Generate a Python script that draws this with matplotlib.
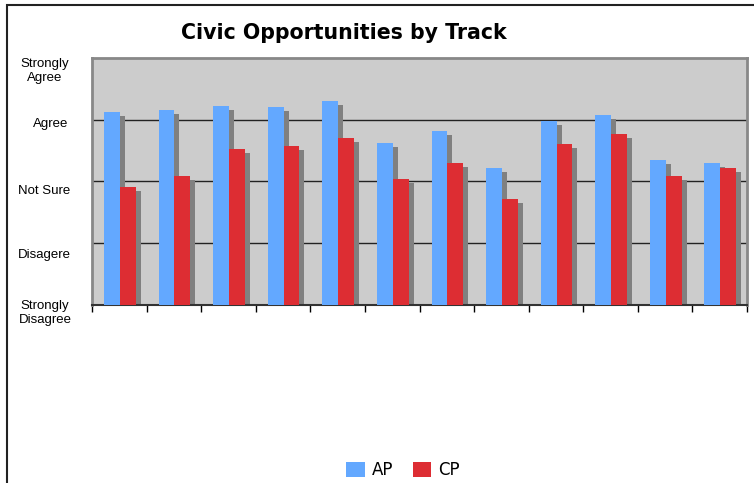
import numpy as np
import matplotlib.pyplot as plt
from matplotlib.patches import Rectangle

# survey scale: 1 = Strongly Disagree ... 5 = Strongly Agree
scale_labels = ["Strongly\nDisagree", "Disagere", "Not Sure", "Agree", "Strongly\nAgree"]
ap = [4.13, 4.16, 4.22, 4.21, 4.30, 3.62, 3.82, 3.22, 3.98, 4.08, 3.35, 3.30]
cp = [2.91, 3.09, 3.52, 3.57, 3.70, 3.04, 3.30, 2.71, 3.61, 3.77, 3.09, 3.22]

blue = "#63a8ff"
red = "#dd2d33"
shadow = "#808080"

fig = plt.figure(figsize=(7.54, 4.83), dpi=100)
ax = fig.add_axes([92 / 754, 1 - 304.5 / 483, 655 / 754, 246.5 / 483])
ax.set_facecolor("#cccccc")

x = np.arange(len(ap))
w = 0.29
dx = 0.092
dy = 0.065
base = 1

# shadows first, bars on top
ax.bar(x + 0.22 + dx, np.array(ap) - base - dy, w, bottom=base, align="edge",
       color=shadow, zorder=2)
ax.bar(x + 0.51 + dx, np.array(cp) - base - dy, w, bottom=base, align="edge",
       color=shadow, zorder=2)
ax.bar(x + 0.22, np.array(ap) - base, w, bottom=base, align="edge",
       color=blue, zorder=3, label="AP")
ax.bar(x + 0.51, np.array(cp) - base, w, bottom=base, align="edge",
       color=red, zorder=3, label="CP")

ax.set_xlim(0, len(ap))
ax.set_ylim(1, 5)
for yv in [2, 3, 4]:
    ax.axhline(yv, color="#222222", lw=1.0, zorder=1)

ax.set_xticks(np.arange(len(ap) + 1))
ax.set_xticklabels([])
ax.tick_params(axis="x", direction="out", length=5, width=1, color="black")
ax.set_yticks([])

for s in ["left", "top", "right"]:
    ax.spines[s].set_color("#888888")
    ax.spines[s].set_linewidth(2)
ax.spines["bottom"].set_color("#333333")
ax.spines["bottom"].set_linewidth(1.5)

# y labels (figure pixel positions)
label_pos = [(45, 313), (44.5, 255), (44.5, 191), (51, 124), (45, 71)]
for lab, (px, py) in zip(scale_labels, label_pos):
    fig.text(px / 754, 1 - py / 483, lab, ha="center", va="center",
             fontsize=9.5, family="Liberation Sans", linespacing=1.2)

fig.text(344 / 754, 1 - 33 / 483, "Civic Opportunities by Track",
         ha="center", va="center", fontsize=14.8, fontweight="bold",
         family="DejaVu Sans")

fig.legend(loc="center", bbox_to_anchor=(403 / 754, 1 - 470 / 483),
           ncol=2, frameon=False, fontsize=12, handlelength=1.1,
           handleheight=1.0, handletextpad=0.4, columnspacing=1.2)

# outer chart border (left and top only visible)
fig.patches.append(Rectangle((7 / 754, -0.1), 1.2, 1 - 5 / 483 + 0.1,
                             transform=fig.transFigure, fill=False,
                             edgecolor="#222222", lw=1.5))

fig.savefig("out.png", dpi=100)
